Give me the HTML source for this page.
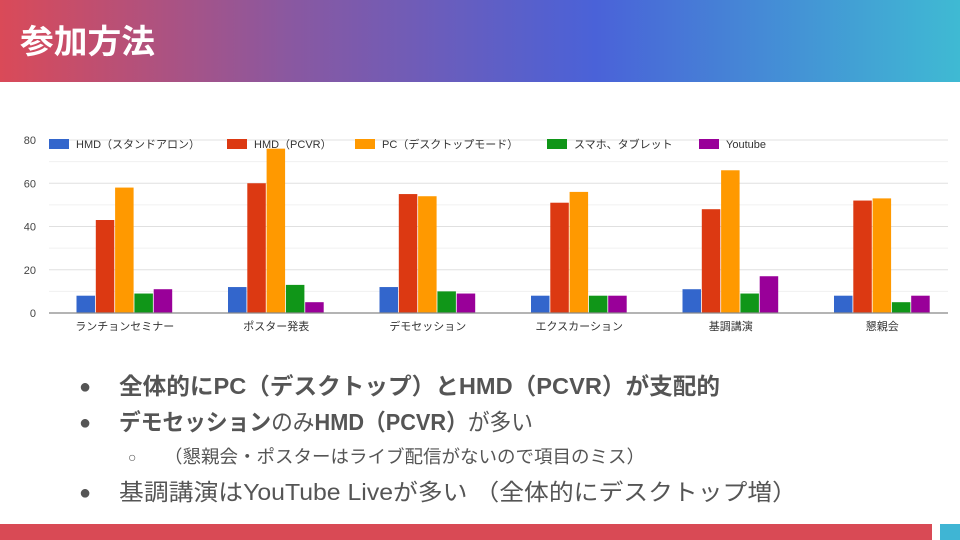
<!DOCTYPE html>
<html><head><meta charset="utf-8"><style>
body{margin:0;width:960px;height:540px;overflow:hidden;background:#fff;font-family:"Liberation Sans","Noto Sans CJK JP",sans-serif}
svg{position:absolute;left:0;top:0}
</style></head><body>
<svg width="960" height="540">
<defs><linearGradient id="hg" x1="0" x2="1" y1="0" y2="0">
<stop offset="0" stop-color="#da4a58"/><stop offset="0.3" stop-color="#8a58a0"/><stop offset="0.62" stop-color="#4a62d8"/><stop offset="1" stop-color="#3fbad3"/></linearGradient></defs>
<rect x="0" y="0" width="960" height="82" fill="url(#hg)"/>
<text x="20" y="53" fill="#fff" font-size="33" font-weight="bold" font-family="Liberation Sans,Noto Sans CJK JP,sans-serif" textLength="135" lengthAdjust="spacingAndGlyphs">参加方法</text>
<g id="chart"></g>
<g fill="#555" font-family="Liberation Sans,Noto Sans CJK JP,sans-serif">
<text x="79" y="393" font-size="20">●</text>
<text x="119" y="394" font-size="23" font-weight="bold" textLength="601" lengthAdjust="spacingAndGlyphs">全体的にPC（デスクトップ）とHMD（PCVR）が支配的</text>
<text x="79" y="429" font-size="20">●</text>
<text x="119" y="430" font-size="23" textLength="414" lengthAdjust="spacingAndGlyphs"><tspan font-weight="bold">デモセッション</tspan>のみ<tspan font-weight="bold">HMD（PCVR）</tspan>が多い</text>
<text x="128" y="462" font-size="14">○</text>
<text x="164" y="463" font-size="18" textLength="481" lengthAdjust="spacingAndGlyphs">（懇親会・ポスターはライブ配信がないので項目のミス）</text>
<text x="79" y="499" font-size="20">●</text>
<text x="119" y="500" font-size="23" textLength="678" lengthAdjust="spacingAndGlyphs">基調講演はYouTube Liveが多い （全体的にデスクトップ増）</text>
</g>
<rect x="0" y="524" width="932" height="16" fill="#d94a55"/>
<rect x="940" y="524" width="20" height="16" fill="#3fb5d4"/>
</svg>
<script>
const categories=["ランチョンセミナー","ポスター発表","デモセッション","エクスカーション","基調講演","懇親会"];
const seriesNames=["HMD（スタンドアロン）","HMD（PCVR）","PC（デスクトップモード）","スマホ、タブレット","Youtube"];
const hmdStandalone=[8,12,12,8,11,8];
const hmdPcvr=[43,60,55,51,48,52];
const pcDesktop=[58,76,54,56,66,53];
const smartphone=[9,13,10,8,9,5];
const youtube=[11,5,9,8,17,8];
const yTicks=[0,20,40,60,80];
const series=[hmdStandalone,hmdPcvr,pcDesktop,smartphone,youtube];
const colors=["#3366cc","#dc3912","#ff9900","#109618","#990099"];
const NS="http://www.w3.org/2000/svg";
const g=document.getElementById('chart');
const x0=49,x1=958,y0=313,yTop=140,vMax=80;
const y=v=>y0-(v/vMax)*(y0-yTop);
const gw=(x1-x0)/categories.length;
const cx=i=>x0+gw*(i+0.5);
function mk(t,a){const e=document.createElementNS(NS,t);for(const k in a)e.setAttribute(k,a[k]);g.appendChild(e);return e;}
for(let v=0;v<=vMax;v+=10){const l=mk('line',{x1:x0,x2:948,y1:y(v),y2:y(v),stroke:v%20?'#f0f0f0':'#e0e0e0','stroke-width':1});

}
yTicks.forEach(v=>{const t=mk('text',{x:36,y:y(v)+4,'text-anchor':'end','font-size':11,fill:'#444'});t.textContent=v;

});
const bw=18.5,gap=0.8;
series.forEach((s,si)=>{s.forEach((v,i)=>{const bx=cx(i)-2.5*(bw+gap)+si*(bw+gap);
const r=mk('rect',{x:bx,y:y(v),width:bw,height:y0-y(v),fill:colors[si]});

});});
const ax=mk('line',{x1:x0,x2:948,y1:y0,y2:y0,stroke:'#888','stroke-width':1.2});


categories.forEach((c,i)=>{const t=mk('text',{x:cx(i),y:330,'text-anchor':'middle','font-size':11,fill:'#333'});t.textContent=c;

});
const lx=[49,227,355,547,699];
seriesNames.forEach((n,i)=>{const r=mk('rect',{x:lx[i],y:139,width:20,height:10,fill:colors[i]});


const t=mk('text',{x:lx[i]+27,y:148,'font-size':11,fill:'#333'});t.textContent=n;

});
</script>
</body></html>
